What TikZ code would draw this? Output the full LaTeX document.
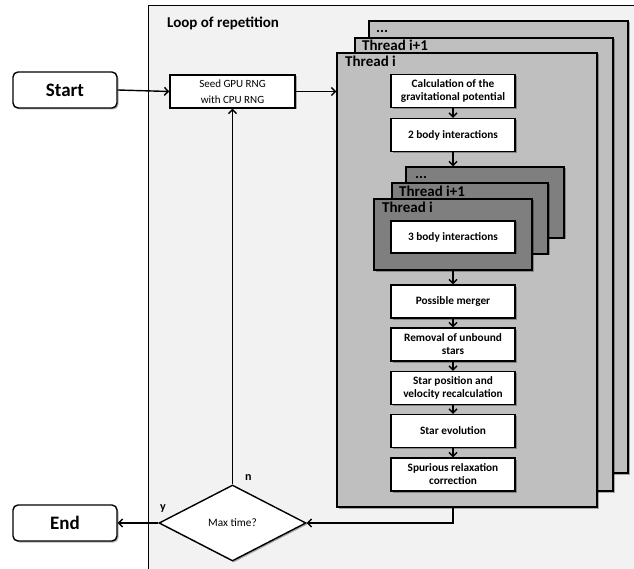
\documentclass[tikz,border=0pt]{standalone}
\usepackage{fontspec}
\setmainfont{Carlito}
\usetikzlibrary{arrows.meta,shapes.geometric,calc,shadows}
\definecolor{loopbg}{HTML}{F2F2F2}
\definecolor{thrbg}{HTML}{BFBFBF}
\definecolor{innbg}{HTML}{7F7F7F}
\begin{document}
\begin{tikzpicture}[x=1pt,y=-1pt,
 shad/.style={drop shadow={shadow xshift=1.5pt,shadow yshift=-1.5pt,opacity=0.3,fill=black}},
 box/.style={draw,line width=1.4pt,fill=white,shad,minimum width=124pt,minimum height=33pt,inner sep=1pt,align=center,font=\fontsize{11.3}{13}\selectfont\bfseries},
 term/.style={draw,line width=1.4pt,rounded corners=5pt,fill=white,shad,minimum width=104pt,minimum height=36pt,font=\fontsize{19}{22}\selectfont\bfseries},
 frame/.style={draw,line width=1.4pt,inner sep=0pt,shad},
 flab/.style={anchor=base west,inner sep=0pt,font=\fontsize{15}{18}\selectfont\bfseries},
 arr/.style={line width=1.4pt,-{Straight Barb[length=4pt,width=8pt]}},
 ln/.style={line width=1.4pt}]
\useasboundingbox (0,0) rectangle (634,569);
\fill[white] (0,0) rectangle (634,569);
\clip (0,0) rectangle (634,569);
\node[draw,line width=1.4pt,inner sep=0pt,fill=loopbg,minimum width=500pt,minimum height=580pt,anchor=north west] (loop) at (148,5) {};
\node[flab] (looplab) at (167,28) {Loop of repetition};

\node[term] (start) at (65,90) {Start};
\node[term] (end) at (65,523) {End};
\node[draw,line width=1.4pt,fill=white,shad,minimum width=125pt,minimum height=33pt,inner sep=1pt,align=center,font=\fontsize{11}{16}\selectfont] (seed) at (232.5,91.5) {Seed GPU RNG\\with CPU RNG};

% big thread frames
\node[frame,fill=thrbg,minimum width=259pt,minimum height=452pt] (tdots) at (498.5,247) {};
\node[flab] at (376,33) {...};
\node[frame,fill=thrbg,minimum width=258pt,minimum height=453pt] (ti1) at (484,264.5) {};
\node[flab] at (362,51) {Thread i+1};
\node[frame,fill=thrbg,minimum width=260pt,minimum height=454pt] (ti) at (467,280) {};
\node[flab] at (345,67) {Thread i};

\node[box] (calc) at (453,91) {Calculation of the\\gravitational potential};
\node[box] (two) at (453,135) {2 body interactions};

% inner thread frames
\node[frame,fill=innbg,minimum width=158pt,minimum height=71pt] (idots) at (485,202.5) {};
\node[flab] at (415,179) {...};
\node[frame,fill=innbg,minimum width=156pt,minimum height=71pt] (ii1) at (470,218.5) {};
\node[flab] at (399,197) {Thread i+1};
\node[frame,fill=innbg,minimum width=158pt,minimum height=71pt] (ii) at (453,234.5) {};
\node[flab] at (382,213) {Thread i};
\node[box,minimum height=32pt] (three) at (453,237) {3 body interactions};

\node[box] (merger) at (453,301.5) {Possible merger};
\node[box] (removal) at (453,344.5) {Removal of unbound\\stars};
\node[box] (starpos) at (453,388) {Star position and\\velocity recalculation};
\node[box] (evol) at (453,431) {Star evolution};
\node[box] (spur) at (453,474.5) {Spurious relaxation\\correction};

\node[diamond,draw,line width=1.4pt,fill=white,shad,minimum width=147pt,minimum height=76pt,inner sep=0pt,font=\fontsize{11.3}{13}\selectfont] (dia) at (232.5,523) {Max time?};
\node[anchor=base west,inner sep=0pt,font=\fontsize{12}{14}\selectfont\bfseries] (nlab) at (245,480) {n};
\node[anchor=base west,inner sep=0pt,font=\fontsize{12}{14}\selectfont\bfseries] (ylab) at (160,510) {y};

% connectors
\draw[arr] (start.east) -- (seed.west);
\draw[arr] (seed.east) -- (seed.east -| ti.west);
\draw[arr] (calc) -- (two);
\draw[arr] (two.south) -- (two.south |- idots.north);
\draw[arr] (three |- ii.south) -- (merger.north);
\draw[arr] (merger) -- (removal);
\draw[arr] (removal) -- (starpos);
\draw[arr] (starpos) -- (evol);
\draw[arr] (evol) -- (spur);
\draw[arr] (spur.south |- ti.south) |- (dia.east);
\draw[arr] (dia.north) -- (seed.south);
\draw[arr] (dia.west) -- (end.east);
\end{tikzpicture}
\end{document}
